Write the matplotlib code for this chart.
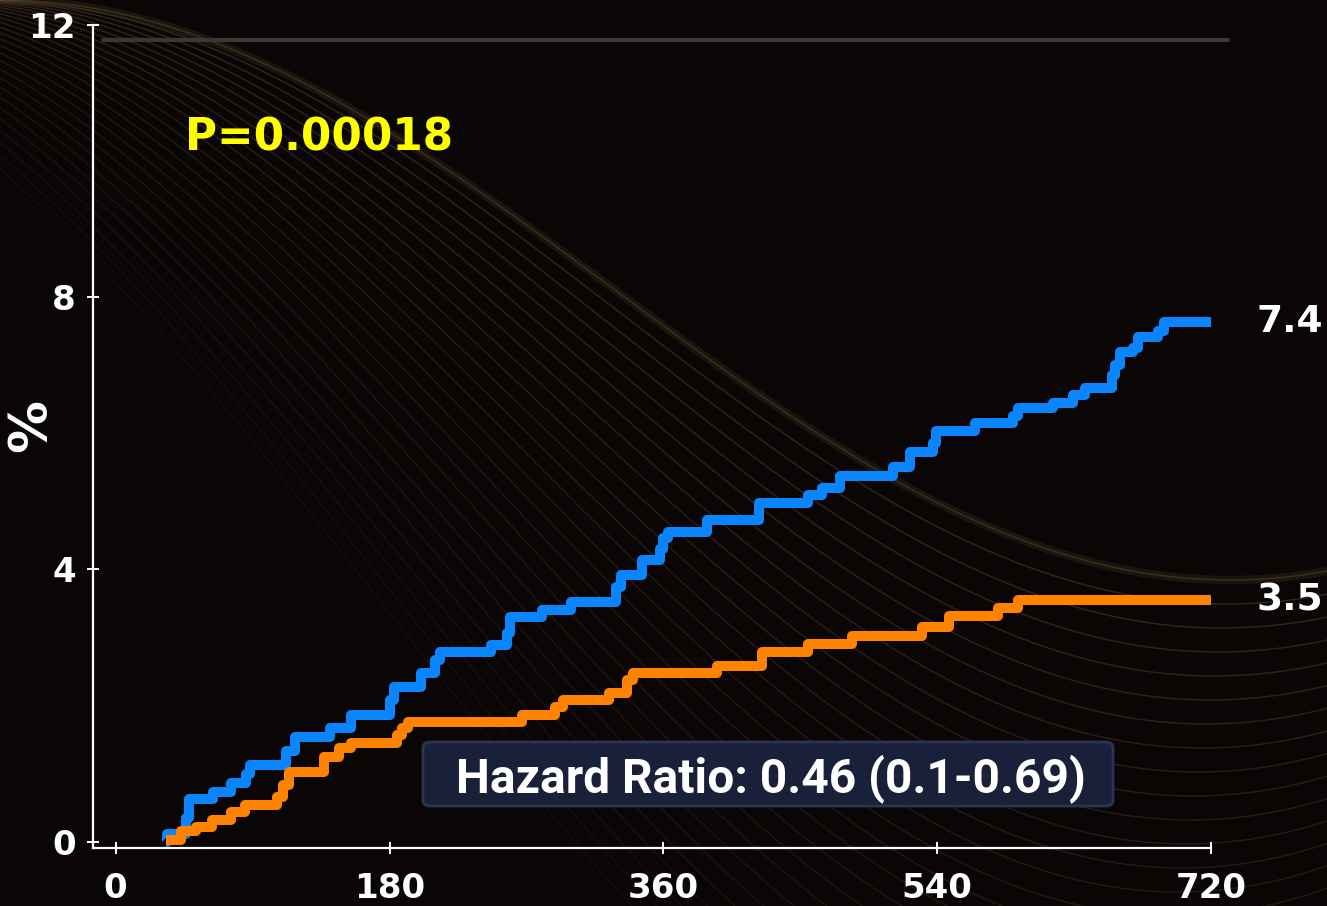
import numpy as np
import matplotlib
matplotlib.use("Agg")
import matplotlib.pyplot as plt
from matplotlib.patches import FancyBboxPatch

# days since start / cumulative event rate (%)
blue_t = [33, 34, 46, 48, 64, 76, 86, 88, 112, 118, 141, 155, 180, 183, 201, 210, 213, 247, 257, 259,
          280, 299, 329, 332, 346, 358, 360, 363, 389, 423, 455, 464, 476, 511, 522, 537, 539, 565,
          590, 593, 616, 629, 637, 655, 657, 660, 669, 672, 685, 689, 720]
blue_v = [0.0, 0.12, 0.35, 0.62, 0.73, 0.86, 1.0, 1.13, 1.33, 1.54, 1.67, 1.86, 2.08, 2.27, 2.48, 2.67,
          2.79, 2.89, 3.06, 3.30, 3.40, 3.52, 3.74, 3.92, 4.14, 4.30, 4.46, 4.55, 4.72, 4.97, 5.09, 5.19,
          5.38, 5.50, 5.72, 5.86, 6.04, 6.15, 6.26, 6.37, 6.45, 6.56, 6.67, 6.85, 7.0, 7.19, 7.26, 7.41,
          7.51, 7.63, 7.63]

orange_t = [33, 43, 53, 63, 76, 85, 106, 110, 114, 137, 147, 155, 185, 188, 192, 267, 289, 294, 324,
            336, 340, 395, 425, 455, 484, 530, 548, 580, 593, 720]
orange_v = [0.03, 0.15, 0.22, 0.32, 0.44, 0.54, 0.66, 0.84, 1.03, 1.25, 1.38, 1.45, 1.57, 1.67, 1.76,
            1.86, 1.98, 2.08, 2.19, 2.38, 2.48, 2.58, 2.78, 2.90, 3.02, 3.15, 3.32, 3.44, 3.55, 3.55]

end_labels = ["7.4", "3.5"]
x_ticks = [0, 180, 360, 540, 720]
y_ticks = [0, 4, 8, 12]
p_text = "P=0.00018"
hr_text = "Hazard Ratio: 0.46 (0.1-0.69)"

W, H = 1327, 906
fig = plt.figure(figsize=(W / 100, H / 100), dpi=100, facecolor="#0b0606")

# decorative background waves (slide template)
bg = fig.add_axes([0, 0, 1, 1], zorder=-1)
bg.set_xlim(0, W)
bg.set_ylim(H, 0)
bg.axis("off")
xs = np.linspace(0, W, 500)
for k in range(27):
    c = A = 290 + 12 * k
    s, L = -14 * k, 1230 + 10 * k
    bg.plot(xs, c - A * np.cos(np.pi * (xs - s) / L), color="#86704c", lw=1.0,
            alpha=0.32 * (1 - k / 34))
bg.plot(xs, 290 - 290 * np.cos(np.pi * xs / 1230), color="#6a5a30", lw=6, alpha=0.18)
bg.plot([103, 1228], [40, 40], color="#3e3535", lw=3, solid_capstyle="round")

ax = fig.add_axes([93 / W, 1 - 848 / H, (1211 - 93) / W, (848 - 25) / H])
ax.set_facecolor("none")
ax.set_xlim(-14.9, 720)
ax.set_ylim(-0.093, 12)

lw = 7.2
ax.step(blue_t, blue_v, where="post", color="#0a84ff", lw=lw,
        solid_joinstyle="round", solid_capstyle="butt", zorder=3)
ax.step(orange_t, orange_v, where="post", color="#ff8200", lw=lw,
        solid_joinstyle="round", solid_capstyle="butt", zorder=3)

for lab, vals in zip(end_labels, [blue_v, orange_v]):
    ax.annotate(lab, xy=(720, vals[-1]), xytext=(33, 0), textcoords="offset points",
                color="white", fontsize=27, fontweight="bold", va="center", ha="left",
                annotation_clip=False)

for s in ["top", "right"]:
    ax.spines[s].set_visible(False)
for s in ["left", "bottom"]:
    ax.spines[s].set_color("white")
    ax.spines[s].set_linewidth(1.6)

ax.set_xticks(x_ticks)
ax.set_yticks(y_ticks)
ax.tick_params(colors="white", direction="inout", length=9, width=1.4,
               labelsize=24.5)
ax.tick_params(axis="x", pad=13)
ax.tick_params(axis="y", pad=8)
for t in ax.get_xticklabels() + ax.get_yticklabels():
    t.set_fontweight("bold")

fig.text(31 / W, 1 - 426 / H, "%", rotation=90, color="white", fontsize=38,
         fontweight="bold", ha="center", va="center")
fig.text(185 / W, 1 - 138 / H, p_text, color="#ffff00", fontsize=31.5,
         fontweight="bold", ha="left", va="center")

box = FancyBboxPatch((423 / W, 1 - 806 / H), 690 / W, 64 / H,
                     boxstyle="round,pad=0,rounding_size=0.006",
                     transform=fig.transFigure, facecolor="#18203a",
                     edgecolor="#2b3453", linewidth=2, zorder=4)
fig.add_artist(box)
fig.text(771 / W, 1 - 779 / H, hr_text, color="white", fontsize=34.5,
         fontweight="bold", ha="center", va="center", zorder=5,
         family=["Roboto", "DejaVu Sans"])

fig.savefig("out.png", dpi=100, facecolor=fig.get_facecolor())
